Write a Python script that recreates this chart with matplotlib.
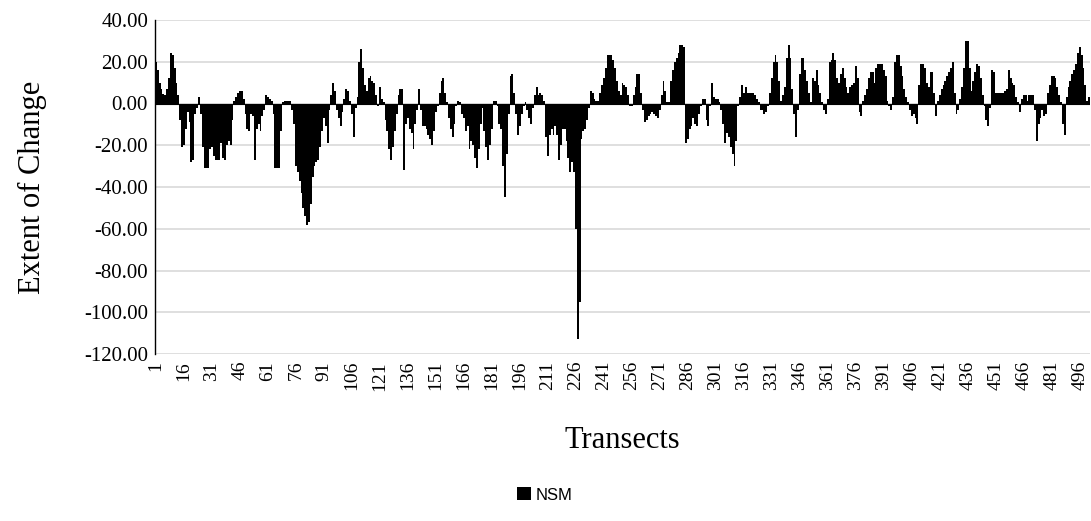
import matplotlib
matplotlib.use("Agg")
import matplotlib.pyplot as plt
from matplotlib.patches import Patch

# ---- data ----
nsm = [
    20, 16, 10, 7, 4.5, 4, 7, 12, 24, 23, 17, 10, 4, -8, -21, -20, -12, -4, -9, -28,
    -27, -5, -2, 3, -5, -21, -31, -31, -31, -22, -21, -25, -27, -27, -27, -19, -26, -27, -20, -18,
    -20, -8, 1, 3, 5, 6, 6, 2, -5, -12, -13, -5, -6, -27, -12, -10, -13, -6, -3, 4,
    3, 2, 1, -5, -31, -31, -31, -13, 0.5, 1, 1, 1, 1, -3, -10, -30, -33, -37, -43, -50,
    -54, -58, -57, -48, -35, -30, -28, -27, -21, -13, -7, -11, -19, -3, 4, 10, 6, -3, -7, -11,
    -4, 2, 7, 6, 1, -5, -16, -2, 3, 20, 26, 17, 9, 6, 12, 13, 11, 10, 4, -1,
    8, 2, 0.5, -8, -13, -22, -27, -21, -13, -5, 4, 7, 7, -32, -10, -7, -12, -14, -22, -10,
    -3, 7, -3, -11, -11, -12, -15, -17, -20, -13, -4, -1, 5, 11, 12, 5, 0.5, -7, -12, -16,
    -10, -1, 1, 0.5, -5, -7, -13, -11, -22, -18, -20, -26, -31, -22, -10, -2, -13, -21, -27, -20,
    -12, 1, 1, -1, -10, -12, -30, -45, -24, -5, 13, 14, 5, -5, -15, -11, -5, -1, 0.5, -3,
    -7, -10, -2, 4, 8, 4, 5, 4, 1, -16, -25, -15, -12, -15, -11, -15, -27, -20, -12, -12,
    -18, -26, -33, -28, -33, -60, -113, -95, -17, -13, -12, -8, -2, 6, 5, 2, 1, 1, 5, 9,
    12, 17, 23, 23, 23, 21, 17, 11, 6, 4, 10, 9, 8, 4, -1, -1, 4, 8, 14, 14,
    5, -3, -9, -8, -6, -5, -4, -5, -6, -7, -3, 4, 11, 6, 0.5, 0.5, 11, 16, 20, 22,
    24, 28, 28, 27, -19, -17, -12, -11, -7, -10, -11, -5, -1, 2, 2, -8, -11, -1, 10, 3,
    2, 2, 0.5, -3, -10, -19, -14, -16, -21, -24, -30, -18, -1, 3, 9, 5, 8, 5, 5, 5,
    5, 4, 2, 0.5, -3, -3, -5, -4, -1, 5, 12, 20, 23, 20, 11, 1, 4, 8, 22, 28,
    22, 7, -5, -16, -3, 14, 22, 22, 16, 11, 5, 0.5, 12, 11, 16, 9, 5, 0.5, -3, -5,
    2, 20, 21, 24, 21, 12, 10, 14, 17, 12, 8, 5, 8, 9, 10, 18, 12, -4, -6, 1,
    4, 7, 12, 15, 15, 10, 17, 19, 19, 19, 16, 13, 1, -1, -3, 3, 20, 23, 23, 18,
    13, 7, 3, 0.5, -3, -6, -5, -7, -10, 9, 19, 19, 17, 10, 8, 15, 15, 5, -6, 1,
    4, 7, 9, 11, 13, 15, 17, 20, 5, -5, -3, 2, 8, 17, 30, 30, 17, 6, 11, 15,
    19, 18, 12, 4, -1, -8, -11, -2, 16, 15, 5, 5, 5, 5, 5, 6, 7, 16, 12, 10,
    9, 3, 0.5, -4, 2, 4, 4, 1, 4, 4, 4, -3, -18, -10, -7, -3, -6, -5, 5, 9,
    13, 13, 12, 8, 4, 0.5, -10, -15, 3, 8, 11, 14, 16, 19, 24, 27, 23, 17, 9, 1,
    3,
]
transects = list(range(1, len(nsm) + 1))
tick_labels = [str(t) for t in transects if (t - 1) % 15 == 0]
y_ticks = [40, 20, 0, -20, -40, -60, -80, -100, -120]
series_name = "NSM"
x_title = "Transects"
y_title = "Extent of Change"

# ---- figure ----
W, H = 1091, 521
fig = plt.figure(figsize=(W / 100, H / 100), dpi=100)
left, right, top, bottom = 155, 1090, 20, 354
ax = fig.add_axes([left / W, 1 - bottom / H, (right - left) / W, (bottom - top) / H])

serif = ["Liberation Serif", "DejaVu Serif"]

ax.bar(transects, nsm, width=1.0, color="black", edgecolor="none", zorder=3)
ax.set_xlim(0.5, len(nsm) + 0.5)
ax.set_ylim(-120, 40)
ax.set_yticks(y_ticks)
ax.set_yticklabels([f"{v:.2f}" for v in y_ticks], fontfamily=serif, fontsize=15)
ax.set_xticks([int(t) for t in tick_labels])
ax.set_xticklabels(tick_labels, rotation=90, fontfamily=serif, fontsize=14)
ax.tick_params(axis="both", length=0, pad=5)

ax.yaxis.grid(True, color="#d9d9d9", linewidth=1.2, zorder=0)
ax.set_axisbelow(True)
for s in ["top", "right", "bottom"]:
    ax.spines[s].set_visible(False)
ax.spines["left"].set_color("black")
ax.spines["left"].set_linewidth(1.0)
ax.axhline(0, color="black", linewidth=0.8, zorder=4)

fig.text(32 / W, 1 - 187 / H, y_title, rotation=90, ha="center", va="center",
         fontfamily=serif, fontsize=22)
fig.text(622 / W, 1 - 440 / H, x_title, ha="center", va="center",
         fontfamily=serif, fontsize=22)

fig.legend(handles=[Patch(facecolor="black", label=series_name)],
           loc="center", bbox_to_anchor=(545 / W, 1 - 495 / H), frameon=False,
           prop={"family": ["Liberation Sans", "DejaVu Sans"], "size": 12},
           handlelength=0.8, handleheight=0.8, handletextpad=0.3)

fig.savefig("out.png", dpi=100)
